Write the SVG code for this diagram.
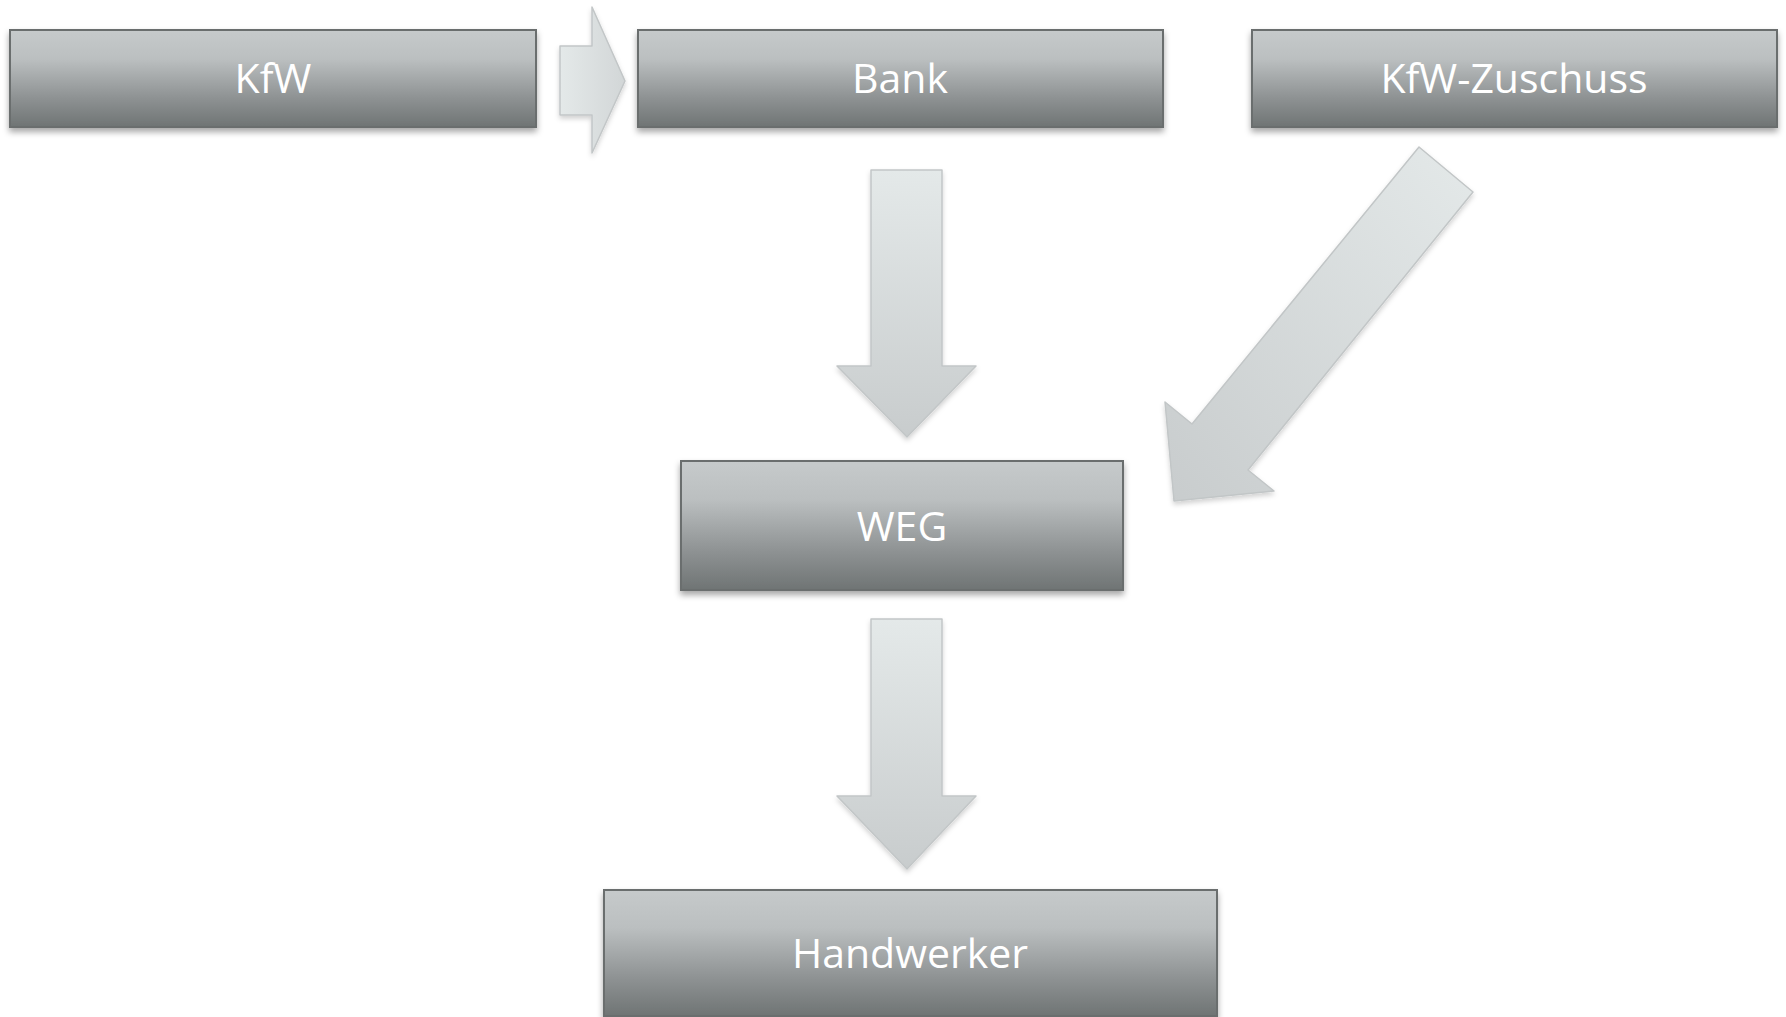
<svg xmlns="http://www.w3.org/2000/svg" width="1786" height="1017" viewBox="0 0 1786 1017">
<defs>
<linearGradient id="boxg" x1="0" y1="0" x2="0" y2="1">
<stop offset="0" stop-color="#c6cacb"/>
<stop offset="0.3" stop-color="#bbbfc0"/>
<stop offset="0.7" stop-color="#8e9293"/>
<stop offset="1" stop-color="#6f7474"/>
</linearGradient>
<linearGradient id="arrv" x1="0" y1="0" x2="0" y2="1">
<stop offset="0" stop-color="#e4e9e9"/>
<stop offset="1" stop-color="#c8cccd"/>
</linearGradient>
<linearGradient id="arrh" x1="0" y1="0" x2="1" y2="0">
<stop offset="0" stop-color="#e4e9e9"/>
<stop offset="1" stop-color="#d2d6d7"/>
</linearGradient>
<linearGradient id="arrd" x1="1" y1="0" x2="0" y2="1">
<stop offset="0" stop-color="#e4e9e9"/>
<stop offset="1" stop-color="#c8cccd"/>
</linearGradient>
<filter id="sh" x="-10%" y="-20%" width="120%" height="150%">
<feDropShadow dx="0" dy="4" stdDeviation="3" flood-color="#000" flood-opacity="0.35"/>
</filter>
<filter id="ash" x="-20%" y="-20%" width="140%" height="140%">
<feDropShadow dx="0" dy="3" stdDeviation="2.5" flood-color="#000" flood-opacity="0.18"/>
</filter>
</defs>
<style>
.box{fill:url(#boxg);stroke:#6a6e6e;stroke-width:2;filter:url(#sh)}
.lbl{font-family:"Open Sans","Noto Sans",sans-serif;font-size:41px;fill:#ffffff;text-anchor:middle}
.arr{stroke:#c2c6c7;stroke-width:1.5;stroke-linejoin:round;filter:url(#ash)}
</style>
<rect width="1786" height="1017" fill="#ffffff"/>
<g id="connectors">
<polygon class="arr" fill="url(#arrh)" points="560,46 592,46 592,7 625,81 592,153 592,115 560,115"/>
<polygon class="arr" fill="url(#arrv)" points="871,170 942,170 942,366 976,366 907,437 837,366 871,366"/>
<polygon class="arr" fill="url(#arrv)" points="871,619 942,619 942,796 976,796 907,869 837,796 871,796"/>
<polygon class="arr" fill="url(#arrd)" points="1419,147 1473,192 1248,470 1274,491 1174,501 1165,402 1192,424"/>
</g>
<g id="node-kfw">
<rect class="box" x="10" y="30" width="526" height="97"/>
<text class="lbl" x="273" y="93">KfW</text>
</g>
<g id="node-bank">
<rect class="box" x="638" y="30" width="525" height="97"/>
<text class="lbl" x="900" y="93">Bank</text>
</g>
<g id="node-kfw-zuschuss">
<rect class="box" x="1252" y="30" width="525" height="97"/>
<text class="lbl" x="1514" y="93">KfW-Zuschuss</text>
</g>
<g id="node-weg">
<rect class="box" x="681" y="461" width="442" height="129"/>
<text class="lbl" x="902" y="541">WEG</text>
</g>
<g id="node-handwerker">
<rect class="box" x="604" y="890" width="613" height="126"/>
<text class="lbl" x="910" y="968">Handwerker</text>
</g>
</svg>
